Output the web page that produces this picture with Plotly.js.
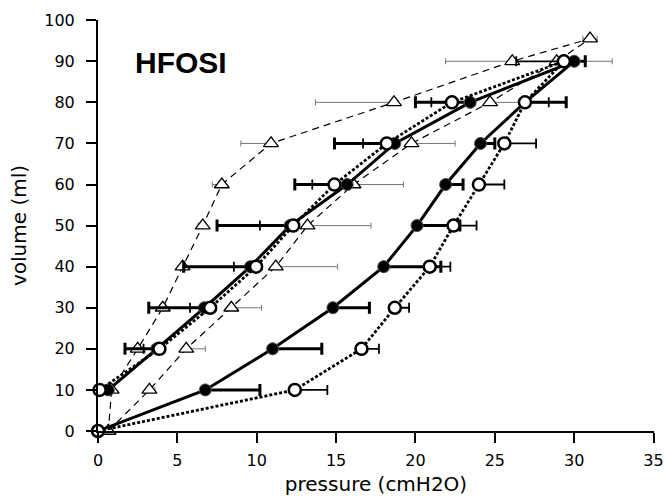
<!DOCTYPE html>
<html>
<head>
<meta charset="utf-8">
<script src="https://cdn.plot.ly/plotly-3.0.1.min.js"></script>
<style>html,body{margin:0;padding:0;background:#fff}#chart{width:664px;height:500px}</style>
</head>
<body>
<div id="chart"></div>
<script>
// Filled circles (solid): inflation branch then deflation branch
var filledX = [0, 6.76, 11.0, 14.8, 18.0, 20.1, 21.9, 24.1, 26.9, 30.0, 23.45, 18.7, 15.7, 12.1, 9.6, 6.7, 3.7, 0.65];
var filledY = [0, 10, 20, 30, 40, 50, 60, 70, 80, 90, 80, 70, 60, 50, 40, 30, 20, 10];
var filledErrPlus  = [0, 3.44, 3.1, 2.3, 3.6, 2.7, 1.1, 0.9, 2.6, 0.7, 0, 0, 0, 0, 0, 0, 0, 0];
var filledErrMinus = [0, 0, 0, 0, 0, 0, 0, 0, 0, 0, 3.45, 3.8, 3.3, 4.6, 4.2, 3.5, 2.0, 0];

// Open circles (dotted)
var openX = [0, 12.4, 16.6, 18.7, 20.9, 22.4, 24.0, 25.6, 26.9, 29.35, 22.3, 18.2, 14.9, 12.3, 9.96, 7.07, 3.87, 0.1];
var openY = [0, 10, 20, 30, 40, 50, 60, 70, 80, 90, 80, 70, 60, 50, 40, 30, 20, 10];
var openErrPlus  = [0, 2.05, 1.1, 0.9, 1.3, 1.45, 1.6, 2.0, 1.5, 0, 0, 0, 0, 0, 0, 0, 0, 0];
var openErrMinus = [0, 0, 0, 0, 0, 0, 0, 0, 0, 3.0, 1.3, 1.5, 1.4, 2.1, 1.4, 1.27, 1.0, 0];

// Open triangles (dashed)
var triX = [0.65, 3.24, 5.56, 8.4, 11.2, 13.2, 16.1, 19.75, 24.7, 28.9, 31.0, 26.1, 18.65, 10.9, 7.8, 6.6, 5.33, 4.08, 2.5, 0.86, 0.65];
var triY = [0, 10, 20, 30, 40, 50, 60, 70, 80, 90, 95.5, 90, 80, 70, 60, 50, 40, 30, 20, 10, 0];
var triErrPlus  = [0, 0.35, 1.2, 1.9, 3.9, 4.0, 3.15, 2.75, 2.0, 3.5, 0.45, 0, 0, 0, 0, 0, 0, 0, 0, 0, 0];
var triErrMinus = [0, 0, 0, 0, 0, 0, 0, 0, 0, 0, 0.45, 4.2, 4.95, 1.9, 0.6, 0.3, 0, 0, 0, 0, 0];

var xTicks = [0, 5, 10, 15, 20, 25, 30, 35];
var yTicks = [0, 10, 20, 30, 40, 50, 60, 70, 80, 90, 100];
var panelLabel = 'HFOSI';

var traces = [
  {
    x: triX, y: triY, type: 'scatter', mode: 'lines+markers', cliponaxis: false,
    line: {color: '#000', width: 1.2, dash: '7px,5px'},
    marker: {symbol: 'triangle-up', size: 13, color: '#fff', line: {color: '#000', width: 1.3}},
    error_x: {type: 'data', symmetric: false, array: triErrPlus, arrayminus: triErrMinus,
              color: '#777', thickness: 1, width: 3},
    showlegend: false
  },
  {
    x: filledX, y: filledY, type: 'scatter', mode: 'lines+markers', cliponaxis: false,
    line: {color: '#000', width: 3},
    marker: {symbol: 'circle', size: 12, color: '#000', line: {color: '#555', width: 1}},
    error_x: {type: 'data', symmetric: false, array: filledErrPlus, arrayminus: filledErrMinus,
              color: '#000', thickness: 3, width: 6},
    showlegend: false
  },
  {
    x: openX, y: openY, type: 'scatter', mode: 'lines+markers', cliponaxis: false,
    line: {color: '#000', width: 2.8, dash: '3px,2px'},
    marker: {symbol: 'circle', size: 12, color: '#fff', line: {color: '#000', width: 2.5}},
    error_x: {type: 'data', symmetric: false, array: openErrPlus, arrayminus: openErrMinus,
              color: '#000', thickness: 1.8, width: 5},
    showlegend: false
  }
];

var layout = {
  width: 664, height: 500,
  margin: {l: 98, r: 10, t: 20, b: 69},
  paper_bgcolor: '#fff', plot_bgcolor: '#fff',
  font: {family: 'DejaVu Sans', size: 16, color: '#000'},
  xaxis: {
    range: [0, 35.03], tickvals: xTicks, ticktext: xTicks.map(String),
    showgrid: false, zeroline: false, showline: true, linewidth: 2, linecolor: '#000',
    ticks: 'outside', ticklen: 10, tickwidth: 2, tickcolor: '#000',
    tickfont: {family: 'DejaVu Sans', size: 16}, ticklabelstandoff: 4,
    title: {text: 'pressure (cmH2O)', font: {family: 'DejaVu Sans', size: 20}, standoff: 8},
    automargin: false
  },
  yaxis: {
    range: [0, 100.05], tickvals: yTicks, ticktext: yTicks.map(String),
    showgrid: false, zeroline: false, showline: true, linewidth: 2, linecolor: '#000',
    ticks: 'outside', ticklen: 10, tickwidth: 2, tickcolor: '#000',
    tickfont: {family: 'DejaVu Sans', size: 16}, ticklabelstandoff: 8,
    title: {text: 'volume (ml)', font: {family: 'DejaVu Sans', size: 20}, standoff: 12},
    automargin: false
  },
  annotations: [{
    text: '<b>' + panelLabel + '</b>', x: 2.2, y: 89.8, xref: 'x', yref: 'y',
    xanchor: 'left', yanchor: 'middle', showarrow: false,
    font: {family: 'Liberation Sans, Arial', size: 30, color: '#000'}
  }]
};

Plotly.newPlot('chart', traces, layout, {displayModeBar: false, staticPlot: true});
</script>
</body>
</html>
